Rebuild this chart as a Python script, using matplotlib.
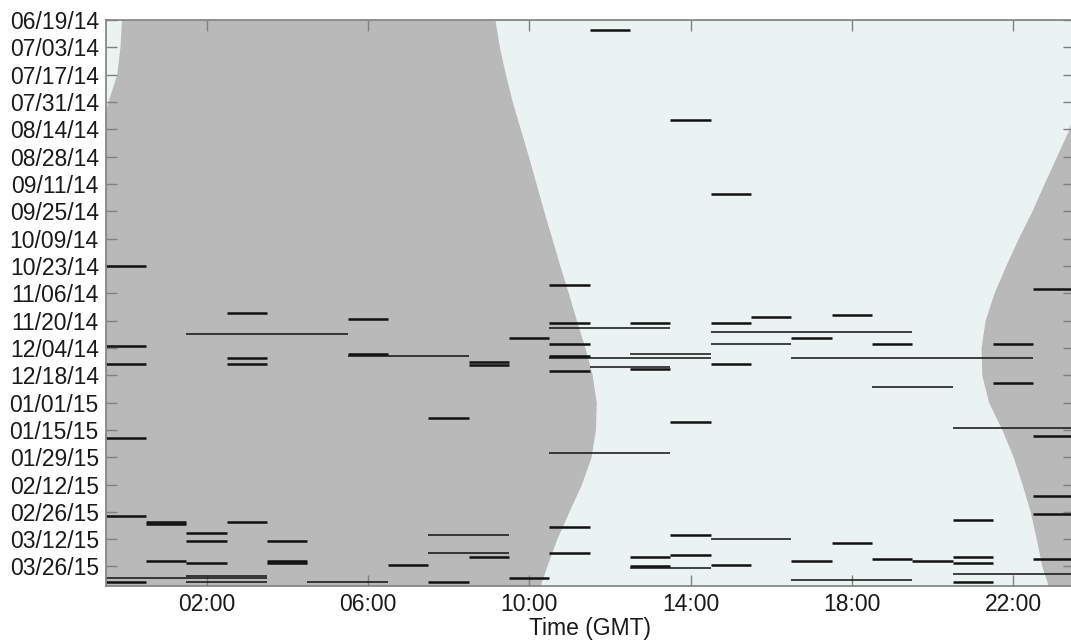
import numpy as np
import pandas as pd
import matplotlib
matplotlib.use("Agg")
import matplotlib.pyplot as plt
import matplotlib.dates as mdates

plt.rcParams['font.family'] = ['Liberation Sans', 'DejaVu Sans']

# sunrise / sunset in GMT hours (sunset > 24 wraps past midnight)
sun_dates = ['2014-06-19', '2014-07-03', '2014-07-17', '2014-07-31', '2014-08-14',
             '2014-08-28', '2014-09-11', '2014-09-25', '2014-10-09', '2014-10-23',
             '2014-11-06', '2014-11-20', '2014-12-04', '2014-12-18', '2015-01-01',
             '2015-01-15', '2015-01-29', '2015-02-12', '2015-02-26', '2015-03-12',
             '2015-03-26', '2015-04-05']
sunrise = [9.15, 9.26, 9.41, 9.58, 9.78, 9.98, 10.17, 10.36, 10.56, 10.76, 10.97,
           11.17, 11.38, 11.56, 11.66, 11.64, 11.53, 11.29, 10.98, 10.68, 10.43, 10.27]
sunset = [23.89, 23.85, 23.77, 23.55, 23.38, 23.07, 22.76, 22.46, 22.12, 21.81, 21.52,
          21.30, 21.20, 21.22, 21.39, 21.72, 22.00, 22.22, 22.42, 22.57, 22.71, 22.87]

# detections: date, first hour bin, last hour bin
seg_dates = ['2014-06-24', '2014-08-09', '2014-09-16', '2014-10-23', '2014-11-02',
             '2014-11-04', '2014-11-16', '2014-11-17', '2014-11-18', '2014-11-19',
             '2014-11-21', '2014-11-21', '2014-11-21', '2014-11-24', '2014-11-26',
             '2014-11-27', '2014-11-29', '2014-11-29', '2014-12-02', '2014-12-02',
             '2014-12-02', '2014-12-02', '2014-12-03', '2014-12-07', '2014-12-08',
             '2014-12-07', '2014-12-08', '2014-12-09', '2014-12-09', '2014-12-09',
             '2014-12-11', '2014-12-12', '2014-12-12', '2014-12-12', '2014-12-13',
             '2014-12-14', '2014-12-15', '2014-12-16', '2014-12-22', '2014-12-24',
             '2015-01-09', '2015-01-11', '2015-01-14', '2015-01-18', '2015-01-19',
             '2015-01-27', '2015-02-18', '2015-02-27', '2015-02-28', '2015-03-02',
             '2015-03-03', '2015-03-03', '2015-03-04', '2015-03-06', '2015-03-09',
             '2015-03-10', '2015-03-10', '2015-03-12', '2015-03-13', '2015-03-13',
             '2015-03-14', '2015-03-19', '2015-03-19', '2015-03-20', '2015-03-21',
             '2015-03-21', '2015-03-21', '2015-03-22', '2015-03-22', '2015-03-23',
             '2015-03-23', '2015-03-23', '2015-03-23', '2015-03-24', '2015-03-24',
             '2015-03-24', '2015-03-25', '2015-03-25', '2015-03-26', '2015-03-27',
             '2015-03-30', '2015-03-31', '2015-04-01', '2015-04-01', '2015-04-01',
             '2015-04-02', '2015-04-03', '2015-04-03', '2015-04-03', '2015-04-03',
             '2015-04-03']
seg_first = [12, 14, 15, 0, 11, 23, 3, 18, 16, 6, 11, 13, 15, 11, 15, 2, 10, 17, 11, 15,
             19, 22, 0, 6, 6, 13, 11, 11, 17, 3, 9, 0, 3, 15, 9, 12, 13, 11, 22, 19,
             8, 14, 21, 23, 0, 11, 23, 23, 0, 21, 3, 1, 1, 11, 2, 14, 8, 15, 2, 4,
             18, 8, 11, 14, 9, 13, 21, 19, 23, 1, 17, 20, 4, 4, 2, 21, 7, 15, 13, 13,
             21, 2, 2, 0, 10, 17, 0, 2, 5, 8, 21]
seg_last = [12, 14, 15, 0, 11, 23, 3, 18, 16, 6, 11, 13, 15, 13, 19, 5, 10, 17, 11, 16,
            19, 22, 0, 6, 8, 14, 11, 14, 22, 3, 9, 0, 3, 15, 9, 13, 13, 11, 22, 20,
            8, 14, 23, 23, 0, 13, 23, 23, 0, 21, 3, 1, 1, 11, 2, 14, 9, 16, 2, 4,
            18, 9, 11, 14, 9, 13, 21, 19, 23, 1, 17, 20, 4, 4, 2, 21, 7, 15, 13, 14,
            23, 3, 3, 1, 10, 19, 0, 3, 6, 8, 21]

NIGHT = '#b9b9b9'
DAY = '#ebf2f2'
GRID = '#808080'

fig = plt.figure(figsize=(10.71, 6.40), dpi=100)
ax = fig.add_axes([105.8 / 1071, 1 - 586 / 640, 968 / 1071, 566 / 640])
ax.set_facecolor(NIGHT)

sd = mdates.date2num(pd.to_datetime(sun_dates))
rise = np.array(sunrise)
sset = np.array(sunset)
ax.fill_betweenx(sd, rise, sset, color=DAY, lw=0)
# daylight that runs past midnight shows up on the left edge
ax.fill_betweenx(sd, -1, sset - 24, color=DAY, lw=0)

yd = mdates.date2num(pd.to_datetime(seg_dates))
for y, a, b in zip(yd, seg_first, seg_last):
    lw = 1.8 if a == b else 1.1
    ax.plot([a - 0.5, b + 0.5], [y, y], color='#111111', lw=lw, solid_capstyle='butt')

ax.set_xlim(-0.5, 23.5)
ax.set_ylim(mdates.date2num(pd.Timestamp('2015-04-05')),
            mdates.date2num(pd.Timestamp('2014-06-19')))
xt = [2, 6, 10, 14, 18, 22]
ax.set_xticks(xt)
ax.set_xticklabels(['%02d:00' % h for h in xt])
yt = pd.date_range('2014-06-19', '2015-03-26', freq='14D')
ax.set_yticks(mdates.date2num(yt))
ax.set_yticklabels(yt.strftime('%m/%d/%y'))
ax.tick_params(direction='in', length=8, width=1, color=GRID, top=True, right=True,
               labelsize=16.5, pad=5, labelcolor='#1a1a1a')
for s in ax.spines.values():
    s.set_color(GRID)
    s.set_linewidth(1.2)
ax.set_xlabel('Time (GMT)', fontsize=16.5, labelpad=1, color='#1a1a1a')

fig.savefig('out.png', dpi=100)
